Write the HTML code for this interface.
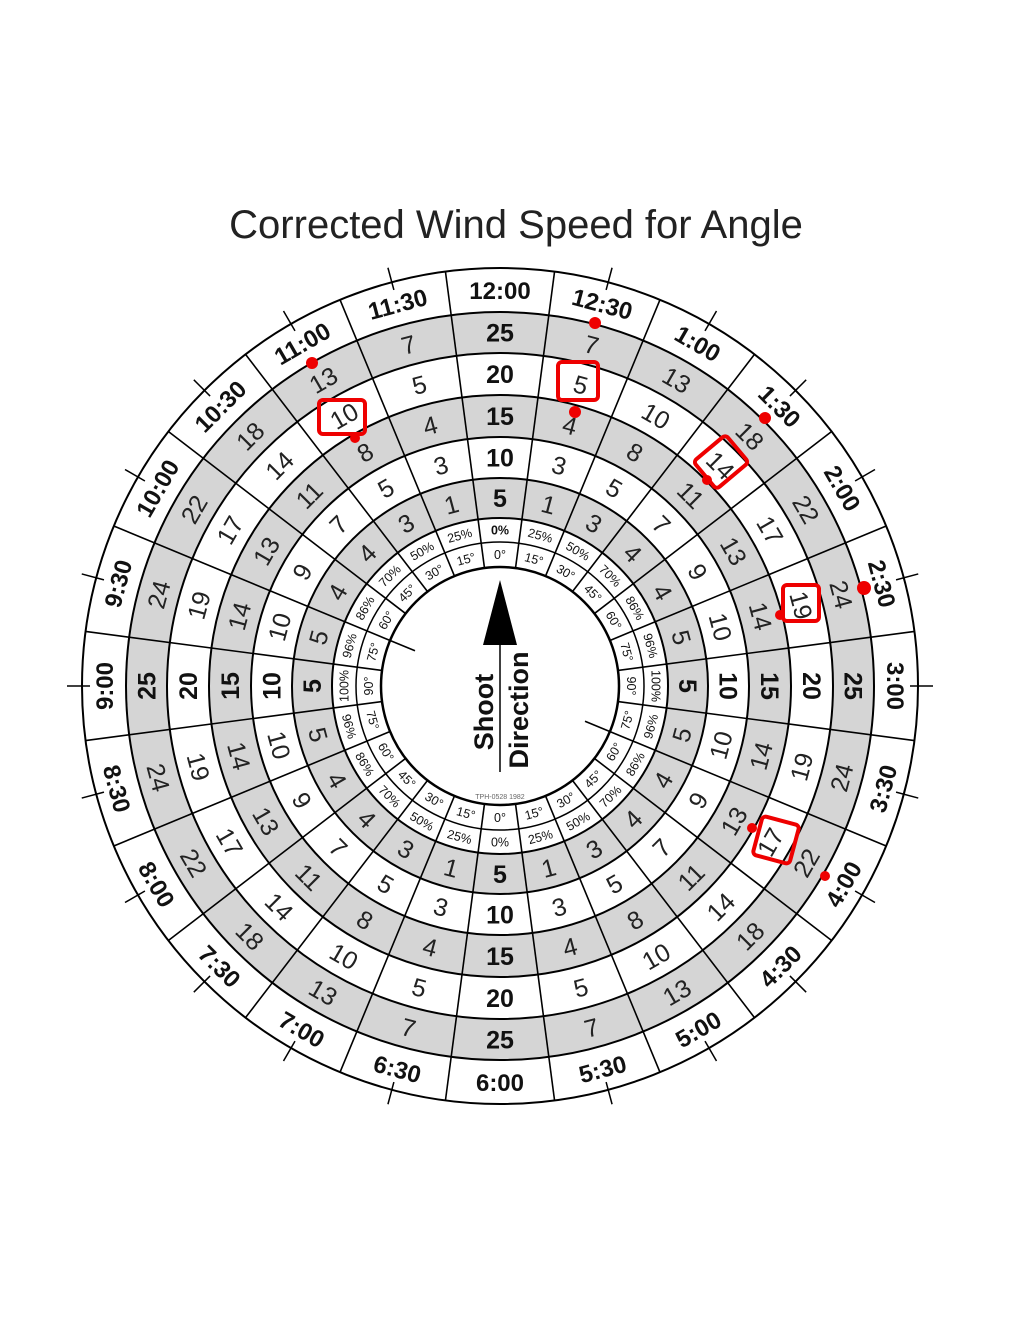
<!DOCTYPE html>
<html><head><meta charset="utf-8"><style>
html,body{margin:0;padding:0;background:#fff}
svg{display:block}
text{font-family:"Liberation Sans","DejaVu Sans",sans-serif;text-anchor:middle;fill:#111}
.c{font-weight:bold;font-size:24px}
.n{font-size:25px;fill:#222}
.b{font-weight:bold;font-size:25px}
.p{font-size:12.5px}
.pb{font-size:12.5px;font-weight:bold}
</style></head><body>
<svg width="1020" height="1320" viewBox="0 0 1020 1320" xmlns="http://www.w3.org/2000/svg">
<text x="516" y="238" style="font-size:40px;fill:#222">Corrected Wind Speed for Angle</text>
<g fill="none" stroke="#d5d5d5">
<circle cx="500" cy="686" r="353.5" stroke-width="41"/>
<circle cx="500" cy="686" r="270" stroke-width="42"/>
<circle cx="500" cy="686" r="188" stroke-width="40"/>
</g>
<g fill="none" stroke="#000" stroke-width="2">
<circle cx="500" cy="686" r="418"/>
<circle cx="500" cy="686" r="374"/>
<circle cx="500" cy="686" r="333"/>
<circle cx="500" cy="686" r="291"/>
<circle cx="500" cy="686" r="249"/>
<circle cx="500" cy="686" r="208"/>
<circle cx="500" cy="686" r="168"/>
<circle cx="500" cy="686" r="144" stroke-width="1.5"/>
<circle cx="500" cy="686" r="119" stroke-width="2.5"/>
</g>
<g stroke="#000" stroke-width="1.6">
<line x1="500" y1="567" x2="500" y2="268" transform="rotate(7.5 500 686)"/>
<line x1="500" y1="567" x2="500" y2="268" transform="rotate(22.5 500 686)"/>
<line x1="500" y1="567" x2="500" y2="268" transform="rotate(37.5 500 686)"/>
<line x1="500" y1="567" x2="500" y2="268" transform="rotate(52.5 500 686)"/>
<line x1="500" y1="567" x2="500" y2="268" transform="rotate(67.5 500 686)"/>
<line x1="500" y1="567" x2="500" y2="268" transform="rotate(82.5 500 686)"/>
<line x1="500" y1="567" x2="500" y2="268" transform="rotate(97.5 500 686)"/>
<line x1="500" y1="594" x2="500" y2="268" transform="rotate(112.5 500 686)"/>
<line x1="500" y1="567" x2="500" y2="268" transform="rotate(127.5 500 686)"/>
<line x1="500" y1="567" x2="500" y2="268" transform="rotate(142.5 500 686)"/>
<line x1="500" y1="567" x2="500" y2="268" transform="rotate(157.5 500 686)"/>
<line x1="500" y1="567" x2="500" y2="268" transform="rotate(172.5 500 686)"/>
<line x1="500" y1="567" x2="500" y2="268" transform="rotate(187.5 500 686)"/>
<line x1="500" y1="567" x2="500" y2="268" transform="rotate(202.5 500 686)"/>
<line x1="500" y1="567" x2="500" y2="268" transform="rotate(217.5 500 686)"/>
<line x1="500" y1="567" x2="500" y2="268" transform="rotate(232.5 500 686)"/>
<line x1="500" y1="567" x2="500" y2="268" transform="rotate(247.5 500 686)"/>
<line x1="500" y1="567" x2="500" y2="268" transform="rotate(262.5 500 686)"/>
<line x1="500" y1="567" x2="500" y2="268" transform="rotate(277.5 500 686)"/>
<line x1="500" y1="594" x2="500" y2="268" transform="rotate(292.5 500 686)"/>
<line x1="500" y1="567" x2="500" y2="268" transform="rotate(307.5 500 686)"/>
<line x1="500" y1="567" x2="500" y2="268" transform="rotate(322.5 500 686)"/>
<line x1="500" y1="567" x2="500" y2="268" transform="rotate(337.5 500 686)"/>
<line x1="500" y1="567" x2="500" y2="268" transform="rotate(352.5 500 686)"/>
</g>
<g stroke="#000" stroke-width="1.5">
<line x1="500" y1="276" x2="500" y2="253" transform="rotate(15 500 686)"/>
<line x1="500" y1="276" x2="500" y2="253" transform="rotate(30 500 686)"/>
<line x1="500" y1="276" x2="500" y2="253" transform="rotate(45 500 686)"/>
<line x1="500" y1="276" x2="500" y2="253" transform="rotate(60 500 686)"/>
<line x1="500" y1="276" x2="500" y2="253" transform="rotate(75 500 686)"/>
<line x1="500" y1="276" x2="500" y2="253" transform="rotate(90 500 686)"/>
<line x1="500" y1="276" x2="500" y2="253" transform="rotate(105 500 686)"/>
<line x1="500" y1="276" x2="500" y2="253" transform="rotate(120 500 686)"/>
<line x1="500" y1="276" x2="500" y2="253" transform="rotate(135 500 686)"/>
<line x1="500" y1="276" x2="500" y2="253" transform="rotate(150 500 686)"/>
<line x1="500" y1="276" x2="500" y2="253" transform="rotate(165 500 686)"/>
<line x1="500" y1="276" x2="500" y2="253" transform="rotate(195 500 686)"/>
<line x1="500" y1="276" x2="500" y2="253" transform="rotate(210 500 686)"/>
<line x1="500" y1="276" x2="500" y2="253" transform="rotate(225 500 686)"/>
<line x1="500" y1="276" x2="500" y2="253" transform="rotate(240 500 686)"/>
<line x1="500" y1="276" x2="500" y2="253" transform="rotate(255 500 686)"/>
<line x1="500" y1="276" x2="500" y2="253" transform="rotate(270 500 686)"/>
<line x1="500" y1="276" x2="500" y2="253" transform="rotate(285 500 686)"/>
<line x1="500" y1="276" x2="500" y2="253" transform="rotate(300 500 686)"/>
<line x1="500" y1="276" x2="500" y2="253" transform="rotate(315 500 686)"/>
<line x1="500" y1="276" x2="500" y2="253" transform="rotate(330 500 686)"/>
<line x1="500" y1="276" x2="500" y2="253" transform="rotate(345 500 686)"/>
</g>

<g transform="rotate(0 500 686)"><text class="c" x="500" y="299">12:00</text><text class="b" x="500" y="341.5">25</text><text class="b" x="500" y="383">20</text><text class="b" x="500" y="425">15</text><text class="b" x="500" y="466.5">10</text><text class="b" x="500" y="507">5</text><text class="pb" x="500" y="534.5">0%</text><text class="p" x="500" y="559">0°</text></g>
<g transform="rotate(15 500 686)"><text class="c" x="500" y="299">12:30</text><text class="n" x="500" y="341.5">7</text><text class="n" x="500" y="383">5</text><text class="n" x="500" y="425">4</text><text class="n" x="500" y="466.5">3</text><text class="n" x="500" y="507">1</text><text class="p" x="500" y="534.5">25%</text><text class="p" x="500" y="559">15°</text></g>
<g transform="rotate(30 500 686)"><text class="c" x="500" y="299">1:00</text><text class="n" x="500" y="341.5">13</text><text class="n" x="500" y="383">10</text><text class="n" x="500" y="425">8</text><text class="n" x="500" y="466.5">5</text><text class="n" x="500" y="507">3</text><text class="p" x="500" y="534.5">50%</text><text class="p" x="500" y="559">30°</text></g>
<g transform="rotate(45 500 686)"><text class="c" x="500" y="299">1:30</text><text class="n" x="500" y="341.5">18</text><text class="n" x="500" y="383">14</text><text class="n" x="500" y="425">11</text><text class="n" x="500" y="466.5">7</text><text class="n" x="500" y="507">4</text><text class="p" x="500" y="534.5">70%</text><text class="p" x="500" y="559">45°</text></g>
<g transform="rotate(60 500 686)"><text class="c" x="500" y="299">2:00</text><text class="n" x="500" y="341.5">22</text><text class="n" x="500" y="383">17</text><text class="n" x="500" y="425">13</text><text class="n" x="500" y="466.5">9</text><text class="n" x="500" y="507">4</text><text class="p" x="500" y="534.5">86%</text><text class="p" x="500" y="559">60°</text></g>
<g transform="rotate(75 500 686)"><text class="c" x="500" y="299">2:30</text><text class="n" x="500" y="341.5">24</text><text class="n" x="500" y="383">19</text><text class="n" x="500" y="425">14</text><text class="n" x="500" y="466.5">10</text><text class="n" x="500" y="507">5</text><text class="p" x="500" y="534.5">96%</text><text class="p" x="500" y="559">75°</text></g>
<g transform="rotate(90 500 686)"><text class="c" x="500" y="299">3:00</text><text class="b" x="500" y="341.5">25</text><text class="b" x="500" y="383">20</text><text class="b" x="500" y="425">15</text><text class="b" x="500" y="466.5">10</text><text class="b" x="500" y="507">5</text><text class="p" x="500" y="534.5">100%</text><text class="p" x="500" y="559">90°</text></g>
<g transform="rotate(270 500 686)"><text class="c" x="500" y="299">9:00</text><text class="b" x="500" y="341.5">25</text><text class="b" x="500" y="383">20</text><text class="b" x="500" y="425">15</text><text class="b" x="500" y="466.5">10</text><text class="b" x="500" y="507">5</text><text class="p" x="500" y="534.5">100%</text><text class="p" x="500" y="559">90°</text></g>
<g transform="rotate(285 500 686)"><text class="c" x="500" y="299">9:30</text><text class="n" x="500" y="341.5">24</text><text class="n" x="500" y="383">19</text><text class="n" x="500" y="425">14</text><text class="n" x="500" y="466.5">10</text><text class="n" x="500" y="507">5</text><text class="p" x="500" y="534.5">96%</text><text class="p" x="500" y="559">75°</text></g>
<g transform="rotate(300 500 686)"><text class="c" x="500" y="299">10:00</text><text class="n" x="500" y="341.5">22</text><text class="n" x="500" y="383">17</text><text class="n" x="500" y="425">13</text><text class="n" x="500" y="466.5">9</text><text class="n" x="500" y="507">4</text><text class="p" x="500" y="534.5">86%</text><text class="p" x="500" y="559">60°</text></g>
<g transform="rotate(315 500 686)"><text class="c" x="500" y="299">10:30</text><text class="n" x="500" y="341.5">18</text><text class="n" x="500" y="383">14</text><text class="n" x="500" y="425">11</text><text class="n" x="500" y="466.5">7</text><text class="n" x="500" y="507">4</text><text class="p" x="500" y="534.5">70%</text><text class="p" x="500" y="559">45°</text></g>
<g transform="rotate(330 500 686)"><text class="c" x="500" y="299">11:00</text><text class="n" x="500" y="341.5">13</text><text class="n" x="500" y="383">10</text><text class="n" x="500" y="425">8</text><text class="n" x="500" y="466.5">5</text><text class="n" x="500" y="507">3</text><text class="p" x="500" y="534.5">50%</text><text class="p" x="500" y="559">30°</text></g>
<g transform="rotate(345 500 686)"><text class="c" x="500" y="299">11:30</text><text class="n" x="500" y="341.5">7</text><text class="n" x="500" y="383">5</text><text class="n" x="500" y="425">4</text><text class="n" x="500" y="466.5">3</text><text class="n" x="500" y="507">1</text><text class="p" x="500" y="534.5">25%</text><text class="p" x="500" y="559">15°</text></g>

<g transform="rotate(-75 500 686)"><text class="c" x="500" y="1091">3:30</text><text class="n" x="500" y="1048.5">24</text><text class="n" x="500" y="1007">19</text><text class="n" x="500" y="965">14</text><text class="n" x="500" y="923.5">10</text><text class="n" x="500" y="883">5</text><text class="p" x="500" y="846.5">96%</text><text class="p" x="500" y="822">75°</text></g>
<g transform="rotate(-60 500 686)"><text class="c" x="500" y="1091">4:00</text><text class="n" x="500" y="1048.5">22</text><text class="n" x="500" y="1007">17</text><text class="n" x="500" y="965">13</text><text class="n" x="500" y="923.5">9</text><text class="n" x="500" y="883">4</text><text class="p" x="500" y="846.5">86%</text><text class="p" x="500" y="822">60°</text></g>
<g transform="rotate(-45 500 686)"><text class="c" x="500" y="1091">4:30</text><text class="n" x="500" y="1048.5">18</text><text class="n" x="500" y="1007">14</text><text class="n" x="500" y="965">11</text><text class="n" x="500" y="923.5">7</text><text class="n" x="500" y="883">4</text><text class="p" x="500" y="846.5">70%</text><text class="p" x="500" y="822">45°</text></g>
<g transform="rotate(-30 500 686)"><text class="c" x="500" y="1091">5:00</text><text class="n" x="500" y="1048.5">13</text><text class="n" x="500" y="1007">10</text><text class="n" x="500" y="965">8</text><text class="n" x="500" y="923.5">5</text><text class="n" x="500" y="883">3</text><text class="p" x="500" y="846.5">50%</text><text class="p" x="500" y="822">30°</text></g>
<g transform="rotate(-15 500 686)"><text class="c" x="500" y="1091">5:30</text><text class="n" x="500" y="1048.5">7</text><text class="n" x="500" y="1007">5</text><text class="n" x="500" y="965">4</text><text class="n" x="500" y="923.5">3</text><text class="n" x="500" y="883">1</text><text class="p" x="500" y="846.5">25%</text><text class="p" x="500" y="822">15°</text></g>
<g transform="rotate(0 500 686)"><text class="c" x="500" y="1091">6:00</text><text class="b" x="500" y="1048.5">25</text><text class="b" x="500" y="1007">20</text><text class="b" x="500" y="965">15</text><text class="b" x="500" y="923.5">10</text><text class="b" x="500" y="883">5</text><text class="p" x="500" y="846.5">0%</text><text class="p" x="500" y="822">0°</text></g>
<g transform="rotate(15 500 686)"><text class="c" x="500" y="1091">6:30</text><text class="n" x="500" y="1048.5">7</text><text class="n" x="500" y="1007">5</text><text class="n" x="500" y="965">4</text><text class="n" x="500" y="923.5">3</text><text class="n" x="500" y="883">1</text><text class="p" x="500" y="846.5">25%</text><text class="p" x="500" y="822">15°</text></g>
<g transform="rotate(30 500 686)"><text class="c" x="500" y="1091">7:00</text><text class="n" x="500" y="1048.5">13</text><text class="n" x="500" y="1007">10</text><text class="n" x="500" y="965">8</text><text class="n" x="500" y="923.5">5</text><text class="n" x="500" y="883">3</text><text class="p" x="500" y="846.5">50%</text><text class="p" x="500" y="822">30°</text></g>
<g transform="rotate(45 500 686)"><text class="c" x="500" y="1091">7:30</text><text class="n" x="500" y="1048.5">18</text><text class="n" x="500" y="1007">14</text><text class="n" x="500" y="965">11</text><text class="n" x="500" y="923.5">7</text><text class="n" x="500" y="883">4</text><text class="p" x="500" y="846.5">70%</text><text class="p" x="500" y="822">45°</text></g>
<g transform="rotate(60 500 686)"><text class="c" x="500" y="1091">8:00</text><text class="n" x="500" y="1048.5">22</text><text class="n" x="500" y="1007">17</text><text class="n" x="500" y="965">13</text><text class="n" x="500" y="923.5">9</text><text class="n" x="500" y="883">4</text><text class="p" x="500" y="846.5">86%</text><text class="p" x="500" y="822">60°</text></g>
<g transform="rotate(75 500 686)"><text class="c" x="500" y="1091">8:30</text><text class="n" x="500" y="1048.5">24</text><text class="n" x="500" y="1007">19</text><text class="n" x="500" y="965">14</text><text class="n" x="500" y="923.5">10</text><text class="n" x="500" y="883">5</text><text class="p" x="500" y="846.5">96%</text><text class="p" x="500" y="822">75°</text></g>

<polygon points="500,580 483,645 517,645" fill="#000"/>
<line x1="500" y1="645" x2="500" y2="772" stroke="#000" stroke-width="1.5"/>
<text transform="rotate(-90 483 712)" x="483" y="722" style="font-weight:bold;font-size:27px">Shoot</text>
<text transform="rotate(-90 518 710)" x="518" y="720" style="font-weight:bold;font-size:27px">Direction</text>
<text x="500" y="799" style="font-size:7px;fill:#666">TPH-0528 1982</text>

<g fill="none" stroke="#e00" stroke-width="4" stroke-linejoin="round">
<rect x="319" y="400" width="46" height="34" rx="4"/>
<rect x="558" y="362" width="40" height="38" rx="4"/>
<rect x="700" y="444" width="42" height="36" rx="4" transform="rotate(-40 721 462)"/>
<rect x="783" y="585" width="36" height="36" rx="4"/>
<rect x="757" y="820" width="38" height="40" rx="4" transform="rotate(15 776 840)"/>
</g>
<g fill="#e00">
<circle cx="312" cy="363" r="6"/><circle cx="595" cy="323" r="6"/>
<circle cx="355" cy="438" r="5"/><circle cx="575" cy="412" r="6"/>
<circle cx="765" cy="418" r="6"/><circle cx="707" cy="480" r="5"/>
<circle cx="864" cy="588" r="7"/><circle cx="780" cy="615" r="5"/>
<circle cx="825" cy="876" r="5"/><circle cx="752" cy="828" r="5"/>
</g>
</svg>
</body></html>
